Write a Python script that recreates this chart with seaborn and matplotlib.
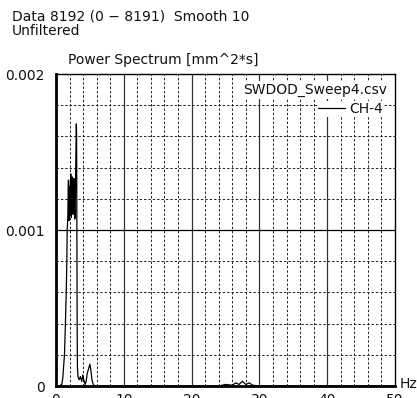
import matplotlib
matplotlib.use("Agg")
import matplotlib.pyplot as plt
from matplotlib.lines import Line2D
import numpy as np
import pandas as pd
import seaborn as sns

# Power spectrum of channel CH-4 (frequency in Hz, power in mm^2*s)
freq_hz = [0.0, 0.5, 0.85, 1.0, 1.25, 1.4, 1.5, 1.6, 1.65, 1.7, 1.75, 1.8,
           1.84, 1.88, 1.92, 1.96, 2.0, 2.04, 2.08, 2.12, 2.18, 2.22, 2.26,
           2.32, 2.4, 2.46, 2.52, 2.58, 2.64, 2.7, 2.76, 2.82, 2.88, 2.94,
           3.0, 3.04, 3.08, 3.12, 3.16, 3.25, 3.4, 3.6, 3.8, 3.95, 4.1, 4.3,
           4.45, 4.6, 4.8, 5.0, 5.15, 5.3, 5.5, 5.7, 10.0, 20.0, 24.0, 25.0,
           26.0, 26.5, 27.0, 27.5, 28.0, 28.5, 29.0, 30.0, 40.0, 50.0]
power = [0.0, 0.0, 0.00001, 0.00005, 0.0002, 0.00042, 0.00058, 0.0008,
         0.00100, 0.00104, 0.00110, 0.00126, 0.00132, 0.00112, 0.00106,
         0.00120, 0.00128, 0.00110, 0.00118, 0.00130, 0.00136, 0.00125,
         0.00108, 0.00122, 0.00134, 0.00128, 0.00110, 0.00124, 0.00133,
         0.00118, 0.00107, 0.00108, 0.00130, 0.00150, 0.00168, 0.00160,
         0.00100, 0.00040, 0.00012, 0.00006, 0.00004, 0.00006, 0.00003,
         0.00007, 0.00004, 0.00001, 0.00003, 0.00008, 0.00011, 0.00014,
         0.00010, 0.00004, 0.00001, 0.0, 0.0, 0.0, 0.0, 0.00001, 0.000005,
         0.00002, 0.00001, 0.00003, 0.00001, 0.00002, 0.000005, 0.0, 0.0, 0.0]

x_ticks = [0, 10, 20, 30, 40, 50]
y_ticks = [0, 0.001, 0.002]
y_tick_labels = ["0", "0.001", "0.002"]

header_lines = ["Data 8192 (0 \u2212 8191)  Smooth 10", "Unfiltered"]
y_title = "Power Spectrum [mm^2*s]"
file_name = "SWDOD_Sweep4.csv"
channel = "CH-4"

sns.set_style("white")
plt.rcParams["font.family"] = ["DejaVu Sans", "Noto Sans CJK JP"]
FS = 10
TXT = "#111111"

W, H = 417, 398
fig = plt.figure(figsize=(W / 100, H / 100), dpi=100)
ax = fig.add_axes([56 / W, 12 / H, (395 - 56) / W, (386 - 74) / H])

df = pd.DataFrame({"freq": freq_hz, "power": power})
sns.lineplot(data=df, x="freq", y="power", ax=ax, color="black",
             linewidth=0.9, zorder=3)

ax.set_xlim(0, 50)
ax.set_ylim(0, 0.002)

# minor dashed grid every 2 Hz / 0.0002, solid major grid every 10 Hz / 0.001
dash = (0, (2.5, 2.0))
for xv in np.arange(2, 50, 2):
    if xv % 10 == 0:
        ax.axvline(xv, color="#333333", linewidth=0.9, zorder=1)
    else:
        ax.axvline(xv, color="#222222", linewidth=0.7, linestyle=dash, zorder=1)
for i in range(1, 10):
    yv = i * 0.0002
    if i == 5:
        ax.axhline(yv, color="black", linewidth=0.9, zorder=1)
    else:
        ax.axhline(yv, color="#222222", linewidth=0.7, linestyle=dash, zorder=1)

ax.set_xticks(x_ticks)
ax.set_xticklabels([str(v) for v in x_ticks], fontsize=FS, color=TXT)
ax.set_yticks(y_ticks)
ax.set_yticklabels(y_tick_labels, fontsize=FS, color=TXT)
ax.tick_params(axis="both", length=0)
ax.tick_params(axis="y", pad=8)
ax.tick_params(axis="x", pad=5)
ax.set_xlabel("")
ax.set_ylabel("")

for side in ["left", "bottom"]:
    ax.spines[side].set_linewidth(2.0)
for side in ["top", "right"]:
    ax.spines[side].set_linewidth(1.0)
for sp in ax.spines.values():
    sp.set_color("black")
    sp.set_zorder(4)

fig.text(12 / W, 1 - 16 / H, header_lines[0], fontsize=FS, va="center",
         ha="left", color=TXT)
fig.text(12 / W, 1 - 31 / H, header_lines[1], fontsize=FS, va="center",
         ha="left", color=TXT)
fig.text(68 / W, 1 - 60 / H, y_title, fontsize=FS, va="center", ha="left",
         color=TXT)
fig.text(400 / W, 1 - 384 / H, "Hz", fontsize=FS, va="center", ha="left",
         color=TXT)

ax.text((387 - 56) / 339, (386 - 90) / 312, file_name, transform=ax.transAxes,
        ha="right", va="center", fontsize=FS, zorder=5, color=TXT,
        bbox=dict(facecolor="white", edgecolor="none", pad=1.5))
handle = Line2D([], [], color="black", linewidth=0.9)
leg = ax.legend([handle], [channel], loc="center right",
                bbox_to_anchor=((384 - 56) / 339, (386 - 109) / 312),
                fontsize=FS, frameon=True, handlelength=1.9,
                handletextpad=0.3, borderpad=0.1, borderaxespad=0.0)
for t in leg.get_texts():
    t.set_color(TXT)
leg.get_frame().set_facecolor("white")
leg.get_frame().set_edgecolor("none")
leg.get_frame().set_alpha(1)
leg.get_frame().set_boxstyle("square", pad=0)
leg.set_zorder(5)

fig.savefig("out.png", dpi=100, facecolor="white")
